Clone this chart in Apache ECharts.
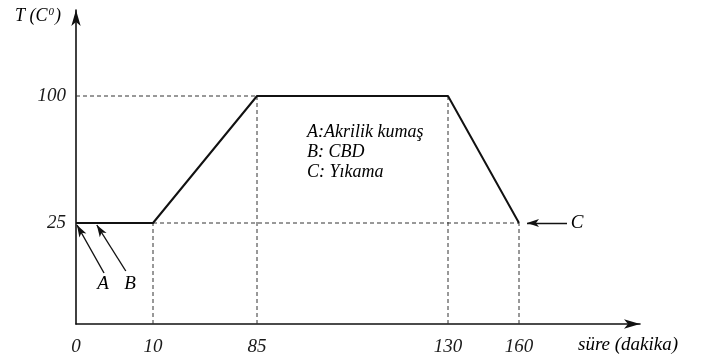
<!DOCTYPE html>
<html><head><meta charset="utf-8">
<script src="https://cdn.jsdelivr.net/npm/echarts@6/dist/echarts.min.js"></script>
<style>html,body{margin:0;padding:0;background:#fff}#c{width:706px;height:361px}</style>
</head><body><div id="c"></div>
<script>
// ---- data ----
const times = [0, 10, 85, 130, 160];      // süre (dakika)
const temps = [25, 25, 100, 100, 25];     // T (C0)
const xTickLabels = [0, 10, 85, 130, 160];
const yTickLabels = [25, 100];
const noteLines = ['A:Akrilik kumaş', 'B: CBD', 'C: Yıkama'];
const xName = 'süre (dakika)';

// ---- layout: the axes are schematic (not to scale); where each labelled value sits, px from origin ----
const xSpot = [[0, 0], [10, 77], [85, 181], [130, 372], [160, 443]];
const ySpot = [[0, 0], [25, 101], [100, 228]];
function piece(map, v) {
  for (let i = 1; i < map.length; i++) {
    const a = map[i - 1], b = map[i];
    if (v <= b[0] || i === map.length - 1) return a[1] + (v - a[0]) * (b[1] - a[1]) / (b[0] - a[0]);
  }
}
const sx = v => piece(xSpot, v), sy = v => piece(ySpot, v);
const X0 = 76, Y0 = 324, XEND = 640, YEND = 10;

const font = {fontFamily: '"Liberation Serif", "DejaVu Serif", serif', fontStyle: 'italic', color: '#1a1a1a'};
const pts = times.map((t, i) => [sx(t), sy(temps[i])]);

// dashed guides
const guides = [];
times.forEach((t, i) => { if (t > 0) guides.push([[sx(t), 0], [sx(t), sy(temps[i])], null]); });
[...new Set(temps)].forEach(T => {
  const last = times.filter((t, i) => temps[i] === T).pop();
  guides.push([[0, sy(T)], [sx(last), sy(T)], null]);
});
const guideData = guides.flat().map(p => p === null ? [null, null] : p);

const xLab = {}; xTickLabels.forEach(v => xLab[sx(v).toFixed(3)] = String(v));
const yLab = {}; yTickLabels.forEach(v => yLab[sy(v).toFixed(3)] = String(v));

// annotation arrows: heads at data points, tails offset
const headA = [sx(times[0]), sy(temps[0])], headB = [sx(2.7), sy(temps[0])];
const headC = [sx(times[4]) + 8, sy(temps[4])];
const arrows = [
  [{coord: [headA[0] + 28, headA[1] - 50]}, {coord: [headA[0] + 1, headA[1] - 2]}],
  [{coord: [headB[0] + 29, headB[1] - 48]}, {coord: [headB[0], headB[1] - 2]}],
  [{coord: [headC[0] + 40, headC[1]]}, {coord: [headC[0], headC[1]]}]
];

const chart = echarts.init(document.getElementById('c'), null, {renderer: 'canvas'});
chart.setOption({
  animation: false,
  backgroundColor: '#fff',
  grid: {left: X0, top: YEND, width: XEND - X0, height: Y0 - YEND, containLabel: false},
  xAxis: {
    type: 'value', min: 0, max: XEND - X0,
    axisLine: {lineStyle: {color: '#111', width: 1.6}, symbol: ['none', 'arrow'], symbolSize: [7, 16]},
    axisTick: {show: false}, splitLine: {show: false},
    axisLabel: {customValues: xTickLabels.map(sx), formatter: v => xLab[v.toFixed(3)] || '', margin: 13,
      fontSize: 19, ...font}
  },
  yAxis: {
    type: 'value', min: 0, max: Y0 - YEND,
    axisLine: {lineStyle: {color: '#111', width: 1.6}, symbol: ['none', 'arrow'], symbolSize: [7, 16]},
    axisTick: {show: false}, splitLine: {show: false},
    axisLabel: {customValues: yTickLabels.map(sy), formatter: v => yLab[v.toFixed(3)] || '', margin: 10,
      fontSize: 19, ...font}
  },
  series: [
    {type: 'line', data: guideData, symbol: 'none', connectNulls: false, silent: true,
      lineStyle: {color: '#333', width: 1, type: [4, 3]}, z: 1},
    {type: 'line', data: pts, symbol: 'none', silent: true,
      lineStyle: {color: '#111', width: 2}, z: 3,
      markLine: {silent: true, symbol: ['none', 'arrow'], symbolSize: [6, 12], label: {show: false},
        lineStyle: {color: '#111', width: 1.4, type: 'solid'}, data: arrows}}
  ],
  graphic: [
    {type: 'text', left: 15, top: 7, style: {
      text: '{m|T (C}{s|0}{m|)}',
      rich: {m: {fontSize: 18, ...font}, s: {fontSize: 11, ...font, verticalAlign: 'top', padding: [0, 1, 8, 1]}}}},
    {type: 'text', x: 578, y: 345, style: {text: xName, fontSize: 19, ...font, verticalAlign: 'middle'}},
    {type: 'text', x: 307, y: 132, style: {text: noteLines[0], fontSize: 18, ...font, verticalAlign: 'middle'}},
    {type: 'text', x: 307, y: 152, style: {text: noteLines[1], fontSize: 18, ...font, verticalAlign: 'middle'}},
    {type: 'text', x: 307, y: 172, style: {text: noteLines[2], fontSize: 18, ...font, verticalAlign: 'middle'}},
    {type: 'text', x: 103, y: 284, style: {text: 'A', fontSize: 19, ...font, align: 'center', verticalAlign: 'middle'}},
    {type: 'text', x: 130, y: 284, style: {text: 'B', fontSize: 19, ...font, align: 'center', verticalAlign: 'middle'}},
    {type: 'text', x: 577, y: 223, style: {text: 'C', fontSize: 19, ...font, align: 'center', verticalAlign: 'middle'}}
  ]
});
</script></body></html>
